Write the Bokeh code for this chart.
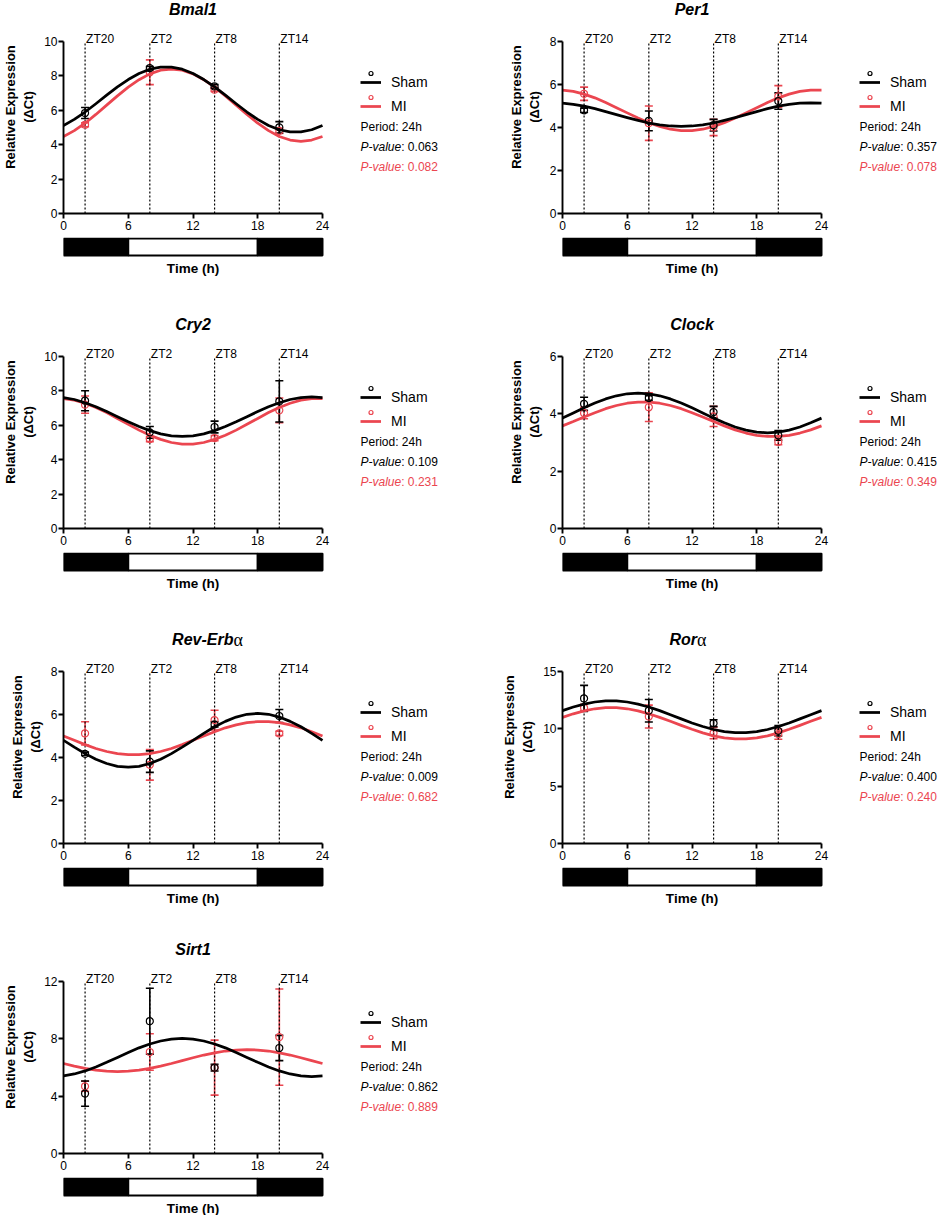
from bokeh.plotting import figure
from bokeh.layouts import column, row
from bokeh.models import (Range1d, FixedTicker, Whisker, TeeHead, ColumnDataSource,
                          Legend, LegendItem, Label)
from bokeh.core.properties import value
from bokeh.embed import file_html
from bokeh.resources import INLINE

# ---------------- data ----------------
genes = ["Bmal1", "Per1", "Cry2", "Clock", "Rev-Erb", "Ror", "Sirt1"]
gene_suffix = ["", "", "", "", "α", "α", ""]
sample_times = [2, 8, 14, 20]
zt_labels = ["ZT20", "ZT2", "ZT8", "ZT14"]
fit_times = list(range(0, 25))
time_ticks = [0, 6, 12, 18, 24]
y_max = [10, 8, 10, 6, 8, 15, 12]
y_step = [2, 2, 2, 2, 2, 5, 4]
period_text = "Period: 24h"
sham_p = ["0.063", "0.357", "0.109", "0.415", "0.009", "0.400", "0.862"]
mi_p = ["0.082", "0.078", "0.231", "0.349", "0.682", "0.240", "0.889"]
phase_start = [0, 6, 18]
phase_end = [6, 18, 24]
phase_state = ["dark", "light", "dark"]

bmal1_sham_mean = [5.84, 8.45, 7.39, 5.01]
bmal1_sham_sem = [0.32, 0.10, 0.10, 0.33]
bmal1_mi_mean = [5.16, 8.21, 7.20, 4.80]
bmal1_mi_sem = [0.12, 0.72, 0.10, 0.15]
bmal1_sham_fit = [5.12, 5.47, 5.90, 6.38, 6.88, 7.36, 7.79, 8.14, 8.39, 8.51, 8.51, 8.39, 8.14,
                  7.79, 7.36, 6.88, 6.38, 5.90, 5.47, 5.12, 4.87, 4.75, 4.75, 4.87, 5.12]
bmal1_mi_fit = [4.48, 4.82, 5.25, 5.76, 6.30, 6.84, 7.35, 7.78, 8.12, 8.33, 8.40, 8.33, 8.12,
                7.78, 7.35, 6.84, 6.30, 5.76, 5.25, 4.82, 4.48, 4.27, 4.20, 4.27, 4.48]

per1_sham_mean = [4.80, 4.31, 4.11, 5.23]
per1_sham_sem = [0.10, 0.46, 0.27, 0.38]
per1_mi_mean = [5.57, 4.20, 4.00, 5.45]
per1_mi_sem = [0.31, 0.80, 0.38, 0.50]
per1_sham_fit = [5.13, 5.08, 4.99, 4.88, 4.74, 4.60, 4.46, 4.33, 4.21, 4.12, 4.07, 4.05, 4.07,
                 4.12, 4.21, 4.33, 4.46, 4.60, 4.74, 4.88, 4.99, 5.08, 5.13, 5.15, 5.13]
per1_mi_fit = [5.74, 5.68, 5.55, 5.38, 5.16, 4.92, 4.68, 4.44, 4.22, 4.05, 3.92, 3.86, 3.86,
               3.92, 4.05, 4.22, 4.44, 4.68, 4.92, 5.16, 5.38, 5.55, 5.68, 5.74, 5.74]

cry2_sham_mean = [7.43, 5.59, 5.90, 7.39]
cry2_sham_sem = [0.58, 0.34, 0.34, 1.20]
cry2_mi_mean = [7.20, 5.20, 5.26, 6.87]
cry2_mi_sem = [0.50, 0.15, 0.15, 0.72]
cry2_sham_fit = [7.61, 7.50, 7.31, 7.08, 6.80, 6.50, 6.20, 5.93, 5.69, 5.50, 5.39, 5.35, 5.39,
                 5.50, 5.69, 5.93, 6.20, 6.50, 6.80, 7.08, 7.31, 7.50, 7.61, 7.65, 7.61]
cry2_mi_fit = [7.55, 7.46, 7.28, 7.04, 6.74, 6.40, 6.06, 5.72, 5.42, 5.18, 5.00, 4.91, 4.91,
               5.00, 5.18, 5.42, 5.72, 6.06, 6.40, 6.74, 7.04, 7.28, 7.46, 7.55, 7.55]

clock_sham_mean = [4.35, 4.55, 4.06, 3.25]
clock_sham_sem = [0.23, 0.08, 0.20, 0.17]
clock_mi_mean = [4.03, 4.23, 3.91, 3.02]
clock_mi_sem = [0.20, 0.50, 0.35, 0.10]
clock_sham_fit = [3.85, 4.03, 4.21, 4.38, 4.52, 4.63, 4.70, 4.72, 4.70, 4.63, 4.52, 4.38, 4.21,
                  4.03, 3.85, 3.69, 3.54, 3.43, 3.36, 3.34, 3.36, 3.43, 3.54, 3.69, 3.85]
clock_mi_fit = [3.58, 3.73, 3.89, 4.04, 4.18, 4.29, 4.37, 4.41, 4.41, 4.37, 4.29, 4.18, 4.04,
                3.89, 3.73, 3.58, 3.44, 3.33, 3.25, 3.21, 3.21, 3.25, 3.33, 3.44, 3.58]

reverb_sham_mean = [4.17, 3.81, 5.54, 5.93]
reverb_sham_sem = [0.08, 0.50, 0.12, 0.30]
reverb_mi_mean = [5.12, 3.66, 5.74, 5.12]
reverb_mi_sem = [0.54, 0.71, 0.46, 0.10]
reverb_sham_fit = [4.80, 4.48, 4.18, 3.92, 3.72, 3.59, 3.55, 3.59, 3.72, 3.92, 4.18, 4.48, 4.80,
                   5.12, 5.43, 5.68, 5.88, 6.01, 6.05, 6.01, 5.88, 5.68, 5.43, 5.12, 4.80]
reverb_mi_fit = [5.00, 4.80, 4.60, 4.42, 4.28, 4.18, 4.13, 4.13, 4.18, 4.28, 4.42, 4.60, 4.80,
                 5.00, 5.20, 5.38, 5.52, 5.62, 5.67, 5.67, 5.62, 5.52, 5.38, 5.20, 5.00]

rora_sham_mean = [12.65, 11.58, 10.49, 9.83]
rora_sham_sem = [1.14, 0.98, 0.30, 0.45]
rora_mi_mean = [11.84, 11.07, 9.63, 9.54]
rora_mi_sem = [0.30, 1.00, 0.50, 0.45]
rora_sham_fit = [11.59, 11.90, 12.16, 12.34, 12.44, 12.44, 12.34, 12.16, 11.90, 11.59, 11.23, 10.87, 10.51,
                 10.20, 9.94, 9.76, 9.66, 9.66, 9.76, 9.94, 10.20, 10.51, 10.87, 11.23, 11.59]
rora_mi_fit = [11.00, 11.31, 11.57, 11.75, 11.84, 11.84, 11.75, 11.57, 11.31, 11.00, 10.66, 10.30, 9.96,
               9.65, 9.39, 9.21, 9.12, 9.12, 9.21, 9.39, 9.65, 9.96, 10.30, 10.66, 11.00]

sirt1_sham_mean = [4.18, 9.23, 5.99, 7.36]
sirt1_sham_sem = [0.88, 2.30, 0.23, 0.88]
sirt1_mi_mean = [4.69, 7.08, 5.99, 8.12]
sirt1_mi_sem = [0.35, 1.27, 1.92, 3.36]
sirt1_sham_fit = [5.42, 5.55, 5.76, 6.04, 6.36, 6.70, 7.04, 7.37, 7.64, 7.85, 7.98, 8.03, 7.98,
                  7.85, 7.64, 7.37, 7.04, 6.70, 6.36, 6.04, 5.76, 5.55, 5.42, 5.37, 5.42]
sirt1_mi_fit = [6.28, 6.10, 5.94, 5.81, 5.74, 5.71, 5.74, 5.81, 5.94, 6.10, 6.28, 6.48, 6.68,
                6.87, 7.02, 7.15, 7.22, 7.25, 7.22, 7.15, 7.02, 6.87, 6.68, 6.48, 6.28]

sham_means = [bmal1_sham_mean, per1_sham_mean, cry2_sham_mean, clock_sham_mean, reverb_sham_mean, rora_sham_mean, sirt1_sham_mean]
sham_sems = [bmal1_sham_sem, per1_sham_sem, cry2_sham_sem, clock_sham_sem, reverb_sham_sem, rora_sham_sem, sirt1_sham_sem]
mi_means = [bmal1_mi_mean, per1_mi_mean, cry2_mi_mean, clock_mi_mean, reverb_mi_mean, rora_mi_mean, sirt1_mi_mean]
mi_sems = [bmal1_mi_sem, per1_mi_sem, cry2_mi_sem, clock_mi_sem, reverb_mi_sem, rora_mi_sem, sirt1_mi_sem]
sham_fits = [bmal1_sham_fit, per1_sham_fit, cry2_sham_fit, clock_sham_fit, reverb_sham_fit, rora_sham_fit, sirt1_sham_fit]
mi_fits = [bmal1_mi_fit, per1_mi_fit, cry2_mi_fit, clock_mi_fit, reverb_mi_fit, rora_mi_fit, sirt1_mi_fit]

# ---------------- layout / style ----------------
FONT = "Liberation Sans"
BLACK = "#000000"
RED = "#EB4650"
PHASE_COLOR = {"dark": "#000000", "light": "#FFFFFF"}

TOP_PAD = 41          # px between frame top and y max
PLOT_H = 172          # px for 0..ymax
FRAME_H = TOP_PAD + PLOT_H
PX_24H = 259          # px for 24 h
LEFT_B = 63
BOTTOM_B = 24
LEFT_FRAME_W = 436
RIGHT_FRAME_W = 378
BAR_FIG_H = [78, 78, 73, 38]
title_anchor = [12, 12, 12, 12, 15.75, 12.46, 12]
INFO_PX = 297


def style_axis(ax):
    ax.axis_line_width = 1.9
    ax.axis_line_color = BLACK
    ax.major_tick_line_width = 1.9
    ax.major_tick_line_color = BLACK
    ax.major_tick_out = 5
    ax.major_tick_in = 0
    ax.minor_tick_line_color = None
    ax.major_label_text_font = FONT
    ax.major_label_text_font_size = "12px"
    ax.major_label_text_color = BLACK
    ax.major_label_standoff = 1


def make_panel(gi, frame_w):
    ymax = y_max[gi]
    x_end = 24 * frame_w / PX_24H
    y_end = ymax * FRAME_H / PLOT_H
    p = figure(frame_width=frame_w, frame_height=FRAME_H,
               x_range=Range1d(0, x_end), y_range=Range1d(0, y_end),
               min_border_left=LEFT_B, min_border_right=0, min_border_top=0,
               min_border_bottom=BOTTOM_B, output_backend="svg",
               toolbar_location=None, tools="")
    p.outline_line_color = None
    p.grid.visible = False
    p.background_fill_color = "white"
    p.border_fill_color = "white"

    xa = p.xaxis[0]
    ya = p.yaxis[0]
    xa.bounds = (0, 24)
    xa.ticker = FixedTicker(ticks=time_ticks)
    ya.bounds = (0, ymax)
    ya.ticker = FixedTicker(ticks=list(range(0, ymax + 1, y_step[gi])))
    style_axis(xa)
    style_axis(ya)
    xa.major_label_standoff = 2
    ya.axis_label = "Relative Expression\n(ΔCt)"
    ya.axis_label_text_font = FONT
    ya.axis_label_text_font_style = "bold"
    ya.axis_label_text_font_size = "13px"
    ya.axis_label_text_line_height = 1.2
    ya.axis_label_text_color = BLACK
    ya.axis_label_standoff = 5

    # ZT dotted lines and labels
    p.segment(x0=sample_times, y0=[0] * 4, x1=sample_times, y1=[ymax] * 4,
              line_color=BLACK, line_width=1.2, line_dash="2 2")
    p.text(x=sample_times, y=[ymax] * 4, text=zt_labels, x_offset=1, y_offset=-2.5,
           text_font=value(FONT), text_font_size="12px", text_color=BLACK,
           text_align="left", text_baseline="alphabetic")

    # title
    if gene_suffix[gi]:
        p.text(x=[title_anchor[gi]], y=[ymax], text=[genes[gi]], y_offset=-32,
               text_font=value(FONT), text_font_style="bold italic", text_font_size="16px",
               text_color=BLACK, text_align="right", text_baseline="middle")
        p.text(x=[title_anchor[gi]], y=[ymax], text=[gene_suffix[gi]], y_offset=-32,
               text_font=value("Liberation Serif"), text_font_size="18px",
               text_color=BLACK, text_align="left", text_baseline="middle")
    else:
        p.text(x=[title_anchor[gi]], y=[ymax], text=[genes[gi]], y_offset=-32,
               text_font=value(FONT), text_font_style="bold italic", text_font_size="16px",
               text_color=BLACK, text_align="center", text_baseline="middle")

    renderers = {}
    for name, means, sems, fits, color in (("MI", mi_means, mi_sems, mi_fits, RED),
                                          ("Sham", sham_means, sham_sems, sham_fits, BLACK)):
        m = means[gi]
        s = sems[gi]
        src = ColumnDataSource(dict(x=sample_times,
                                    lower=[a - b for a, b in zip(m, s)],
                                    upper=[a + b for a, b in zip(m, s)]))
        w = Whisker(base="x", lower="lower", upper="upper", source=src,
                    line_color=color, line_width=1.6,
                    upper_head=TeeHead(size=8, line_color=color, line_width=1.6),
                    lower_head=TeeHead(size=8, line_color=color, line_width=1.6))
        p.add_layout(w)
        ln = p.line(fit_times, fits[gi], line_color=color, line_width=2.75, line_join="round")
        sc = p.scatter(sample_times, m, marker="circle", size=7, line_color=color,
                       fill_color=None, line_width=1.2)
        renderers[name] = (ln, sc)

    # legends
    leg_lines = Legend(items=[LegendItem(label="Sham", renderers=[renderers["Sham"][0]]),
                              LegendItem(label="MI", renderers=[renderers["MI"][0]])],
                       location=(INFO_PX, FRAME_H - (TOP_PAD + 31) - 44), orientation="vertical",
                       glyph_width=21, glyph_height=20, label_height=20, spacing=4,
                       padding=0, margin=0, label_standoff=10,
                       border_line_color=None, background_fill_alpha=0,
                       label_text_font=FONT, label_text_font_size="14px",
                       label_text_color=BLACK, label_text_baseline="alphabetic")
    leg_pts = Legend(items=[LegendItem(label="", renderers=[renderers["Sham"][1]]),
                            LegendItem(label="", renderers=[renderers["MI"][1]])],
                     location=(INFO_PX, FRAME_H - (TOP_PAD + 27.3) - 34), orientation="vertical",
                     glyph_width=21, glyph_height=10, label_height=10, spacing=14,
                     padding=0, margin=0, label_standoff=0,
                     border_line_color=None, background_fill_alpha=0,
                     label_text_font_size="1px")
    p.add_layout(leg_lines)
    p.add_layout(leg_pts)

    # info texts
    x_info = INFO_PX * 24 / PX_24H

    def ypos(px):
        return ymax * (1 - px / PLOT_H)

    p.add_layout(Label(x=x_info, y=ypos(85.3), text=period_text, text_font=FONT,
                       text_font_size="12px", text_color=BLACK, text_baseline="middle"))
    for px, pv, color in ((105.3, sham_p[gi], BLACK), (125.3, mi_p[gi], RED)):
        p.add_layout(Label(x=x_info, y=ypos(px), text="P-value", text_font=FONT,
                           text_font_style="italic", text_font_size="12px",
                           text_color=color, text_baseline="middle"))
        p.add_layout(Label(x=x_info, y=ypos(px), x_offset=40.7, text=": " + pv,
                           text_font=FONT, text_font_size="12px",
                           text_color=color, text_baseline="middle"))
    return p


def make_bar(frame_w, h):
    x_end = 24 * frame_w / PX_24H
    b = figure(frame_width=frame_w, frame_height=h,
               x_range=Range1d(0, x_end), y_range=Range1d(-h, 0),
               min_border_left=LEFT_B, min_border_right=0, min_border_top=0,
               min_border_bottom=0, x_axis_type=None, y_axis_type=None,
               output_backend="svg", toolbar_location=None, tools="")
    b.outline_line_color = None
    b.grid.visible = False
    b.border_fill_color = "white"
    src = ColumnDataSource(dict(left=phase_start, right=phase_end,
                                color=[PHASE_COLOR[s] for s in phase_state]))
    b.quad(left="left", right="right", top=-1, bottom=-18, fill_color="color",
           line_color=BLACK, line_width=2, source=src)
    b.text(x=[12], y=[-31], text=["Time (h)"], text_font=value(FONT),
           text_font_style="bold", text_font_size="13.5px", text_color=BLACK,
           text_align="center", text_baseline="middle")
    return b


order = [(0, 1), (2, 3), (4, 5), (6, None)]
left_cells = []
right_cells = []
for ri, (li, rj) in enumerate(order):
    left_cells.append(make_panel(li, LEFT_FRAME_W))
    left_cells.append(make_bar(LEFT_FRAME_W, BAR_FIG_H[ri]))
    if rj is not None:
        right_cells.append(make_panel(rj, RIGHT_FRAME_W))
        right_cells.append(make_bar(RIGHT_FRAME_W, BAR_FIG_H[ri]))

layout = row(column(*left_cells, spacing=0), column(*right_cells, spacing=0), spacing=0)

open("out.html", "w").write(file_html(layout, INLINE, title="Circadian gene expression"))
